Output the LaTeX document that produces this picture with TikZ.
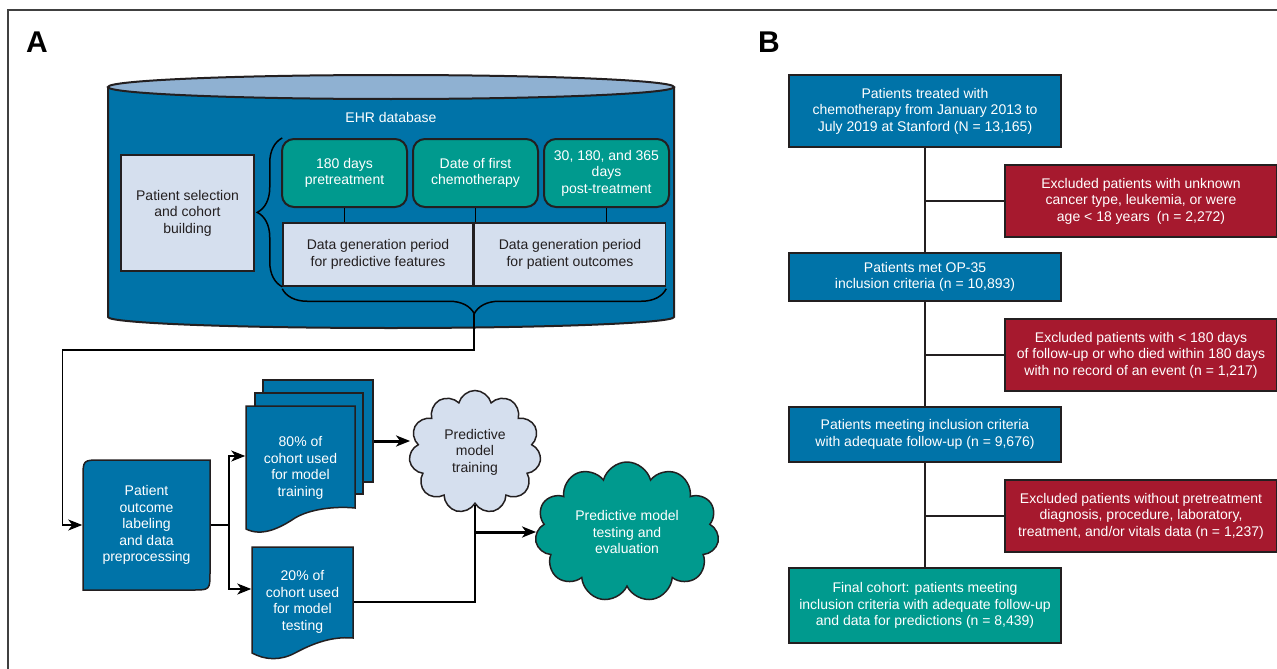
\documentclass[tikz,border=0pt]{standalone}
\usepackage{fontspec}
\setmainfont{Liberation Sans}
\usepackage{tikz}
\usetikzlibrary{shapes, arrows.meta, positioning, decorations.pathreplacing}

\definecolor{ehrblue}{HTML}{0073A8}
\definecolor{ehrteal}{HTML}{009A8E}
\definecolor{ehrred}{HTML}{A6192E}
\definecolor{ehrpale}{HTML}{D5DFEE}
\definecolor{ehrtop}{HTML}{8FB1D2}
\definecolor{ink}{HTML}{231F20}

\begin{document}
\begin{tikzpicture}[x=1pt, y=-1pt, >={Stealth[length=14pt, width=11pt, inset=4pt]}, line width=1.5pt,
        font=\fontsize{14}{16.5}\selectfont, node distance=104pt]
        \tikzstyle{keepbox}=[draw=ink, line width=2pt, fill=ehrblue, text=white, align=center, minimum width=272pt]
        \tikzstyle{dropbox}=[keepbox, fill=ehrred, minimum height=72pt]
        \tikzstyle{stagebox}=[draw=ink, line width=2pt, fill=ehrteal, text=white, align=center, rounded corners=12pt, minimum width=125pt, minimum height=68pt]
        \tikzstyle{periodbox}=[draw=ink, line width=1.5pt, fill=ehrpale, text=ink, align=center, minimum height=63pt]
        \tikzstyle{docbox}=[draw=ink, line width=1.5pt, fill=ehrblue]
        \tikzstyle{puff}=[cloud, cloud puffs=11, cloud ignores aspect, draw=ink, line width=1.5pt, align=center]
        \tikzstyle{bracket}=[decorate, decoration={brace, amplitude=25pt}, line width=1.5pt]
        \tikzstyle{trunk}=[draw=ink, line width=2.4pt]

        \useasboundingbox (0,0) rectangle (1277,669);
        \draw[line width=1.5pt, black!75] (8,669) -- (8,10) -- (1277,10);
        \node[font=\fontsize{30}{30}\selectfont\bfseries] (labA) at (37,42) {A};
        \node[font=\fontsize{30}{30}\selectfont\bfseries] (labB) at (769,42) {B};

        % A: EHR cylinder
        \filldraw[fill=ehrblue, draw=ink, line width=2pt] (108,87) -- (108,317)
            arc[start angle=180, end angle=360, x radius=283pt, y radius=11pt] -- (674,87);
        \filldraw[fill=ehrtop, draw=ink, line width=2pt] (391,87) ellipse[x radius=283pt, y radius=12pt];
        \node[text=white] (ehr) at (391,117) {EHR database};
        \node[periodbox, minimum width=133pt, minimum height=116pt] (select) at (187.5,213) {Patient selection\\and cohort\\building};
        \node[stagebox] (pre) at (344.5,173) {180 days\\pretreatment};
        \node[stagebox, right=4pt of pre] (chemo) {Date of first\\chemotherapy};
        \node[stagebox, right=4pt of chemo] (post) {30, 180, and 365\\days\\post-treatment};
        \node[periodbox, minimum width=190pt] (feat) at (378,254.5) {Data generation period\\for predictive features};
        \node[periodbox, minimum width=191pt, right=0pt of feat] (outc) {Data generation period\\for patient outcomes};
        \draw (pre) -- (pre |- feat.north);
        \draw (chemo) -- (chemo |- feat.north);
        \draw (post) -- (post |- outc.north);
        \draw[bracket] (feat.south west) -- (feat.south west |- pre.north);
        \draw[bracket] ([yshift=-2pt]outc.south east) -- ([yshift=-2pt]feat.south west);
        \coordinate[below=27pt of feat.south east] (tip);

        % A: modelling
        \filldraw[docbox] (83,590) -- (83,478) .. controls (83,460) .. (101,460) -- (210,460)
            -- (210,572) .. controls (210,590) .. (192,590) -- cycle;
        \node[text=white, align=center, minimum width=127pt, minimum height=130pt] (prep) at (146.5,525) {Patient\\outcome\\labeling\\and data\\preprocessing};
        \node[docbox, minimum width=110pt, minimum height=102pt] (stack) at (318,431) {};
        \node[docbox, minimum width=108pt, minimum height=101pt] (stackmid) at (309,443.5) {};
        \filldraw[docbox] (246,406) -- (355,406) -- (355,508) .. controls (335,506) and (310,509) .. (295,518)
            .. controls (280,528) and (262,537) .. (246,529) -- cycle;
        \node[text=white, align=center, minimum width=109pt, minimum height=124pt] (train) at (300.5,468) {80\% of\\cohort used\\for model\\training};
        \filldraw[docbox] (252,547) -- (353,547) -- (353,638) .. controls (330,636) and (310,645) .. (295,653)
            .. controls (280,661) and (265,660) .. (252,653) -- cycle;
        \node[text=white, align=center, minimum width=101pt, minimum height=110pt] (test) at (302.5,602) {20\% of\\cohort used\\for model\\testing};
        \node[puff, fill=ehrpale, text=ink, minimum width=132pt, minimum height=123pt] (cloudA) at (475,452) {Predictive\\model\\training};
        \node[puff, fill=ehrteal, text=white, minimum width=184pt, minimum height=140pt] (cloudB) at (627,532) {Predictive model\\testing and\\evaluation};

        \draw[->] (tip) -- ++(0,36) -| ([xshift=-20pt]prep.west) -- (prep.west);
        \draw (prep.east) -- ++(18,0) coordinate (split);
        \draw[->] (split) |- ([yshift=12pt]train.west);
        \draw[->] (split) |- ([yshift=13pt]test.west);
        \draw[->, line width=3pt] ([yshift=-10pt]stack.east) -- ([yshift=-10pt]stack.east -| cloudA.west);
        \draw (test.east) -| (cloudA.south);
        \draw[->, line width=3pt] (cloudA.south |- cloudB.west) -- (cloudB.west);

        % B: cohort flow
        \node[keepbox, minimum height=72pt] (all) at (925,111) {Patients treated with\\chemotherapy from January 2013 to\\July 2019 at Stanford (N = 13,165)};
        \node[keepbox, minimum height=48pt, below=of all] (op) {Patients met OP-35\\inclusion criteria (n = 10,893)};
        \node[keepbox, minimum height=55pt, below=of op] (adequate) {Patients meeting inclusion criteria\\with adequate follow-up (n = 9,676)};
        \node[keepbox, fill=ehrteal, minimum height=75pt, below=of adequate] (final) {Final cohort: patients meeting\\inclusion criteria with adequate follow-up\\and data for predictions (n = 8,439)};
        \node[dropbox, below right=16pt and -58pt of all.south east] (exA) {Excluded patients with unknown\\cancer type, leukemia, or were\\age < 18 years\enspace(n = 2,272)};
        \node[dropbox, below right=16pt and -58pt of op.south east] (exB) {Excluded patients with < 180 days\\of follow-up or who died within 180 days\\with no record of an event (n = 1,217)};
        \node[dropbox, below right=16pt and -58pt of adequate.south east] (exC) {Excluded patients without pretreatment\\diagnosis, procedure, laboratory,\\treatment, and/or vitals data (n = 1,237)};
        \draw[trunk] (all) -- (op) -- (adequate) -- (final);
        \draw[trunk] (exA.west) -- (exA.west -| all.south);
        \draw[trunk] (exB.west) -- (exB.west -| op.south);
        \draw[trunk] (exC.west) -- (exC.west -| adequate.south);
\end{tikzpicture}
\end{document}
